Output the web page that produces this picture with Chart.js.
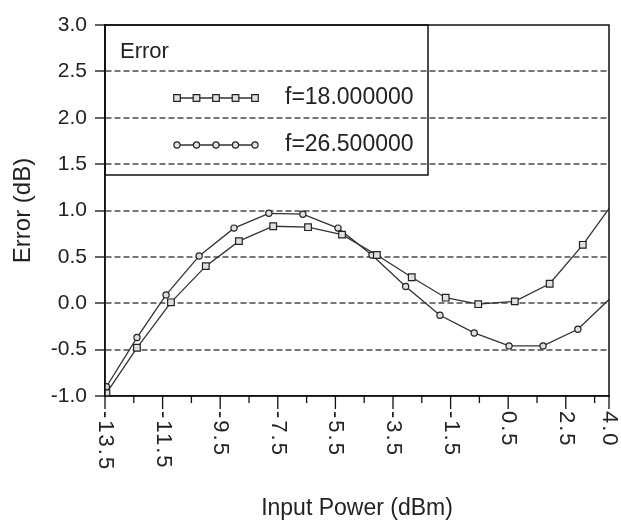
<!DOCTYPE html>
<html><head><meta charset="utf-8">
<script src="https://cdn.jsdelivr.net/npm/chart.js@4.4.1/dist/chart.umd.min.js"></script>
<style>html,body{margin:0;padding:0;background:#fff;}#wrap{width:621px;height:522px;}</style>
</head><body><div id="wrap"><canvas id="c" width="621" height="522"></canvas></div>
<script>
const legendTitle = 'Error';
const seriesNames = ['f=18.000000', 'f=26.500000'];
// f = 18 GHz series (square markers); last point is the line end at the right axis edge
const f18X = [-13.45, -12.39, -11.21, -10.0, -8.85, -7.66, -6.45, -5.27, -4.06, -2.85, -1.67, -0.54, 0.73, 1.94, 3.09, 4.0];
const f18Y = [-0.97, -0.48, 0.01, 0.40, 0.67, 0.83, 0.82, 0.74, 0.52, 0.28, 0.06, -0.01, 0.02, 0.21, 0.63, 1.02];
// f = 26.5 GHz series (circle markers)
const f265X = [-13.45, -12.39, -11.38, -10.23, -9.02, -7.81, -6.63, -5.41, -4.23, -3.06, -1.87, -0.68, 0.53, 1.71, 2.92, 4.0];
const f265Y = [-0.90, -0.37, 0.09, 0.51, 0.81, 0.97, 0.96, 0.81, 0.52, 0.18, -0.13, -0.32, -0.46, -0.46, -0.28, 0.04];
const xTickValues = [-13.5, -11.5, -9.5, -7.5, -5.5, -3.5, -1.5, 0.5, 2.5, 4.0];
const xTickLabels = ['-13.5', '-11.5', '-9.5', '-7.5', '-5.5', '-3.5', '-1.5', '0.5', '2.5', '4.0'];
const xMinorTicks = [-12.5, -10.5, -8.5, -6.5, -4.5, -2.5, -0.5, 1.5, 3.5];
const yMin = -1.0, yMax = 3.0, yStep = 0.5;
const xTitle = 'Input Power (dBm)';
const yTitle = 'Error (dB)';

const FONT = '"Liberation Sans", Arial, Helvetica, sans-serif';
const toPts = (xs, ys) => xs.map((x, i) => ({x, y: ys[i]}));
const lastHidden = r => (ctx => ctx.dataIndex === ctx.dataset.data.length - 1 ? 0 : r);

function drawMarker(ctx, style, x, y) {
  ctx.beginPath();
  if (style === 'rect') { ctx.rect(x - 3.3, y - 3.3, 6.6, 6.6); }
  else { ctx.arc(x, y, 3.1, 0, Math.PI * 2); }
  ctx.fillStyle = '#e0e0e0'; ctx.fill();
  ctx.strokeStyle = '#222'; ctx.lineWidth = 1.2; ctx.stroke();
}

const decor = {
  id: 'decor',
  afterDraw(chart) {
    const {ctx, chartArea: a, scales: {x}} = chart;
    ctx.save();
    ctx.strokeStyle = '#111'; ctx.lineWidth = 1.5; ctx.setLineDash([]);
    ctx.strokeRect(a.left, a.top, a.right - a.left, a.bottom - a.top);
    ctx.lineWidth = 1.3;
    ctx.beginPath();
    xTickValues.forEach(v => { const px = x.getPixelForValue(v); ctx.moveTo(px, a.bottom); ctx.lineTo(px, a.bottom + 13); });
    xMinorTicks.forEach(v => { const px = x.getPixelForValue(v); ctx.moveTo(px, a.bottom); ctx.lineTo(px, a.bottom + 7); });
    ctx.stroke();
    ctx.fillStyle = '#222';
    ctx.font = '22px ' + FONT;
    xTickValues.forEach((v, i) => {
      const px = x.getPixelForValue(v);
      ctx.save();
      ctx.translate(px, a.bottom + 15);
      ctx.rotate(Math.PI / 2);
      ctx.letterSpacing = '2px';
      ctx.textAlign = 'left'; ctx.textBaseline = 'middle';
      ctx.fillText(xTickLabels[i], 0, 0);
      ctx.restore();
    });
    // legend box
    const lx = a.left, ly = a.top, lw = 323, lh = 150;
    ctx.strokeStyle = '#111'; ctx.lineWidth = 1.5;
    ctx.strokeRect(lx, ly, lw, lh);
    ctx.fillStyle = '#222'; ctx.textAlign = 'left'; ctx.textBaseline = 'middle';
    ctx.font = '22px ' + FONT;
    ctx.fillText(legendTitle, lx + 15, ly + 27);
    const styles = ['rect', 'circle'];
    const rows = [ly + 73, ly + 120];
    ctx.font = '23px ' + FONT;
    seriesNames.forEach((name, k) => {
      const yy = rows[k];
      ctx.strokeStyle = '#333'; ctx.lineWidth = 1.4;
      ctx.beginPath(); ctx.moveTo(lx + 70, yy); ctx.lineTo(lx + 151, yy); ctx.stroke();
      for (let i = 0; i < 5; i++) drawMarker(ctx, styles[k], lx + 72 + i * 19.5, yy);
      ctx.fillStyle = '#222';
      ctx.fillText(name, lx + 180, yy);
    });
    ctx.restore();
  }
};

new Chart(document.getElementById('c'), {
  type: 'line',
  data: {
    datasets: [
      { label: seriesNames[0], data: toPts(f18X, f18Y), borderColor: '#333', borderWidth: 1.3,
        pointStyle: 'rect', pointRadius: lastHidden(4.7), pointBackgroundColor: '#e0e0e0',
        pointBorderColor: '#222', pointBorderWidth: 1.2, tension: 0, fill: false },
      { label: seriesNames[1], data: toPts(f265X, f265Y), borderColor: '#333', borderWidth: 1.3,
        pointStyle: 'circle', pointRadius: lastHidden(3.1), pointBackgroundColor: '#e0e0e0',
        pointBorderColor: '#222', pointBorderWidth: 1.2, tension: 0, fill: false }
    ]
  },
  options: {
    responsive: false, animation: false,
    layout: { padding: { top: 25, right: 12, left: 0, bottom: 0 } },
    plugins: { legend: { display: false }, tooltip: { enabled: false } },
    scales: {
      x: {
        type: 'linear', min: xTickValues[0], max: xTickValues[xTickValues.length - 1],
        ticks: { display: false },
        grid: { display: false },
        border: { display: true, color: '#111', width: 1.5 },
        title: { display: true, text: xTitle, color: '#222', font: { size: 23, family: FONT }, padding: { top: 0, bottom: 0 } },
        afterFit(s) { s.height = 126; }
      },
      y: {
        min: yMin, max: yMax,
        ticks: { stepSize: yStep, padding: 8, color: '#222', font: { size: 21, family: FONT },
                 callback: v => Number(v).toFixed(1) },
        grid: {
          color: c => (c.tick && (c.tick.value === yMin || c.tick.value === yMax)) ? 'rgba(0,0,0,0)' : '#777',
          lineWidth: 2, tickLength: 10, tickColor: '#111', tickWidth: 1.3, tickBorderDash: []
        },
        border: { display: true, color: '#111', width: 1.5, dash: [6, 3] },
        title: { display: true, text: yTitle, color: '#222', font: { size: 24, family: FONT }, padding: { top: 9, bottom: 0 } },
        afterFit(s) { s.width = 105; }
      }
    }
  },
  plugins: [decor]
});
</script>
</body></html>
